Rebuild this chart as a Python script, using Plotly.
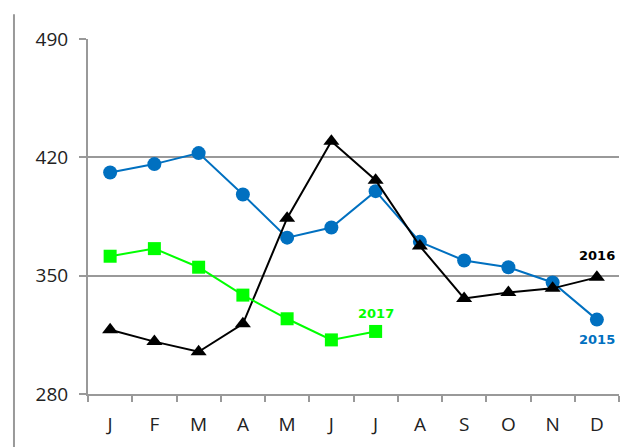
import plotly.graph_objects as go

months = ["J", "F", "M", "A", "M", "J", "J", "A", "S", "O", "N", "D"]
y2015 = [411, 416, 422.5, 398, 372.5, 378.5, 400, 370, 359, 355, 346, 324]
y2016 = [318, 311, 305, 321.5, 384, 429.5, 406.5, 367.5, 336.5, 340, 342.5, 349]
y2017 = [361.5, 366, 355, 338.5, 324.5, 312, 317]
yticks = [280, 350, 420, 490]

xi = list(range(len(months)))

fig = go.Figure()
fig.add_trace(go.Scatter(x=xi, y=y2015, mode="lines+markers", name="2015",
                         line=dict(color="#0070C0", width=2),
                         marker=dict(symbol="circle", size=14, color="#0070C0")))
fig.add_trace(go.Scatter(x=xi, y=y2016, mode="lines+markers", name="2016",
                         line=dict(color="#000000", width=2),
                         marker=dict(symbol="triangle-up", size=14, color="#000000")))
fig.add_trace(go.Scatter(x=xi[:len(y2017)], y=y2017, mode="lines+markers", name="2017",
                         line=dict(color="#00FF00", width=2),
                         marker=dict(symbol="square", size=13, color="#00FF00")))

lab_font = dict(family="DejaVu Sans", size=13)
fig.add_annotation(x=6, y=327.5, xref="x", yref="y", text="<b>2017</b>", showarrow=False,
                   font=dict(color="#00FF00", **lab_font))
fig.add_annotation(x=11, y=362, xref="x", yref="y", text="<b>2016</b>", showarrow=False,
                   font=dict(color="#000000", **lab_font))
fig.add_annotation(x=11, y=312.5, xref="x", yref="y", text="<b>2015</b>", showarrow=False,
                   font=dict(color="#0070C0", **lab_font))

# left decorative border line
fig.add_shape(type="line", xref="paper", yref="paper", x0=-0.1394, x1=-0.1394, y0=-0.2, y1=1.07,
              line=dict(color="#999999", width=2))

fig.update_layout(
    width=622, height=439,
    margin=dict(l=80, r=11, t=31, b=53),
    paper_bgcolor="white", plot_bgcolor="white",
    showlegend=False,
    font=dict(family="Open Sans", size=19, color="#222222"),
)
fig.update_xaxes(
    range=[-0.5, 11.5], tickvals=xi, ticktext=months, ticks="",
    showgrid=False, zeroline=False, showline=True, linecolor="#999999", linewidth=2,
    ticklabelstandoff=12,
    minor=dict(tickvals=[i - 0.5 for i in range(13)], ticks="outside", ticklen=6,
               tickcolor="#999999", tickwidth=1.5, showgrid=False),
)
fig.update_yaxes(
    range=[280, 490], tickvals=yticks, ticks="outside", ticklen=7, tickcolor="#999999",
    tickwidth=1.5, showgrid=True, gridcolor="#999999", gridwidth=1.5, zeroline=False,
    showline=True, linecolor="#999999", linewidth=2, ticklabelstandoff=7,
)

fig.write_html("out.html")
